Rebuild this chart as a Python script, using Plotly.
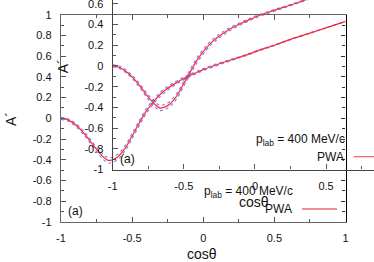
import plotly.graph_objects as go

W, H = 374, 262

cos_theta = [-1.0, -0.95, -0.9, -0.85, -0.8, -0.75, -0.7, -0.67, -0.64, -0.6, -0.55, -0.5, -0.45,
             -0.4, -0.35, -0.3, -0.25, -0.2, -0.15, -0.1, -0.05, 0.0, 0.1, 0.2, 0.3, 0.4, 0.5,
             0.6, 0.7, 0.8, 0.9, 1.0]
pwa = [0.0, -0.015, -0.06, -0.125, -0.21, -0.30, -0.375, -0.405, -0.40, -0.37, -0.29, -0.17,
       -0.045, 0.07, 0.16, 0.235, 0.29, 0.335, 0.375, 0.41, 0.44, 0.47, 0.52, 0.565, 0.61,
       0.66, 0.705, 0.755, 0.80, 0.845, 0.89, 0.935]
pwa_upper = [0.01, -0.003, -0.046, -0.108, -0.19, -0.278, -0.35, -0.38, -0.375, -0.345, -0.265,
             -0.145, -0.02, 0.094, 0.182, 0.255, 0.308, 0.351, 0.389, 0.422, 0.451, 0.48,
             0.529, 0.572, 0.616, 0.665, 0.709, 0.758, 0.802, 0.848, 0.892, 0.937]
pwa_lower = [-0.01, -0.027, -0.074, -0.142, -0.23, -0.322, -0.40, -0.43, -0.425, -0.395,
             -0.315, -0.195, -0.07, 0.046, 0.138, 0.215, 0.272, 0.319, 0.361, 0.398, 0.429,
             0.46, 0.511, 0.558, 0.604, 0.655, 0.701, 0.752, 0.798, 0.842, 0.888, 0.933]

x_ticks = [-1, -0.5, 0, 0.5, 1]
x_ticklabels = ["-1", "-0.5", "0", "0.5", "1"]
y_ticks = [-1, -0.8, -0.6, -0.4, -0.2, 0, 0.2, 0.4, 0.6, 0.8, 1]
y_ticklabels = ["-1", "-0.8", "-0.6", "-0.4", "-0.2", "0", "0.2", "0.4", "0.6", "0.8", "1"]

x_title = "cosθ"
y_title = "A´"
panel_label = "(a)"
key_title = "p<sub>lab</sub> = 400 MeV/c"
series_name = "PWA"

RED = "#ff2a2a"
BLUE = "rgba(80,80,255,0.75)"
FONT = "Liberation Sans, Arial, sans-serif"

# pixel geometry
OX0, OX1, OYT, OYB = 61.0, 345.5, 14.7, 222.0   # outer frame
DX, DY = 51.7, -52.4                              # inner copy offset
pxu = (OX1 - OX0) / 2.0
pyu = (OYB - OYT) / 2.0

def px(x):
    return x / W

def py(y):
    return 1 - y / H

fig = go.Figure()

def add_set(xa, ya):
    fig.add_trace(go.Scatter(x=cos_theta, y=pwa_lower, mode="lines", xaxis=xa, yaxis=ya,
                             line=dict(color=BLUE, width=1.1, dash="dot", shape="spline"),
                             showlegend=False, hoverinfo="skip"))
    fig.add_trace(go.Scatter(x=cos_theta, y=pwa_upper, mode="lines", xaxis=xa, yaxis=ya,
                             line=dict(color=BLUE, width=1.1, dash="dot", shape="spline"),
                             showlegend=False, hoverinfo="skip"))
    fig.add_trace(go.Scatter(x=cos_theta, y=pwa, mode="lines", xaxis=xa, yaxis=ya, name=series_name,
                             line=dict(color=RED, width=1.2, shape="spline"),
                             showlegend=False))

add_set("x", "y")
add_set("x2", "y2")
# carrier for right-hand frame axis
fig.add_trace(go.Scatter(x=[None], y=[None], xaxis="x", yaxis="y3", showlegend=False))

tickfont = dict(family=FONT, size=11, color="#111")
common = dict(showgrid=False, zeroline=False, showline=True, ticks="inside", ticklen=5,
              tickwidth=1, tickcolor="#555", tickfont=tickfont, automargin=False,
              ticklabelstandoff=6, ticklabeloverflow="allow")

# inner geometry
IX0 = OX0 + DX
IYB = OYB + DY
inner_xmax = -1 + (W - IX0) / pxu
inner_ymax = -1 + IYB / pyu

fig.update_layout(
    width=W, height=H, autosize=False,
    margin=dict(l=0, r=0, t=0, b=0, autoexpand=False),
    paper_bgcolor="white", plot_bgcolor="rgba(0,0,0,0)",
    xaxis=dict(domain=[px(OX0), px(OX1)], range=[-1, 1], anchor="y",
               tickvals=x_ticks, ticktext=x_ticklabels, linecolor="#666", mirror="ticks",
               linewidth=1.3, minor=dict(dtick=0.25, tick0=0, ticks="inside", ticklen=3, tickcolor="#555"),
               **common),
    yaxis=dict(domain=[py(OYB), py(OYT)], range=[-1, 1], anchor="x",
               tickvals=y_ticks, ticktext=y_ticklabels, linecolor="#666", linewidth=1.3,
               minor=dict(dtick=0.1, tick0=0, ticks="inside", ticklen=3, tickcolor="#555"),
               **common),
    yaxis3=dict(overlaying="y", side="right", anchor="x", range=[-1, 1], automargin=False,
                showgrid=False, zeroline=False, showline=True, linecolor="#000", linewidth=1.3,
                ticks="inside", ticklen=4, tickcolor="#333", tickvals=y_ticks, showticklabels=False,
                minor=dict(dtick=0.1, tick0=0, ticks="inside", ticklen=3, tickcolor="#333")),
    xaxis2=dict(domain=[px(IX0), 1], range=[-1, inner_xmax], anchor="y2",
                tickvals=x_ticks, ticktext=x_ticklabels, linecolor="#444", linewidth=1.3,
                minor=dict(dtick=0.25, tick0=0, ticks="inside", ticklen=3, tickcolor="#555"),
                **common),
    yaxis2=dict(domain=[py(IYB), 1], range=[-1, inner_ymax], anchor="x2",
                tickvals=y_ticks, ticktext=y_ticklabels, linecolor="#444", linewidth=1.3,
                minor=dict(dtick=0.1, tick0=0, ticks="inside", ticklen=3, tickcolor="#555"),
                **common),
)

def ann(text, x, y, size, xanchor="center", angle=0):
    fig.add_annotation(text=text, x=px(x), y=py(y), xref="paper", yref="paper",
                       xanchor=xanchor, yanchor="middle", showarrow=False, textangle=angle,
                       font=dict(family=FONT, size=size, color="#111"))

for dx, dy in [(0, 0), (DX, DY)]:
    ann(x_title, 202 + dx, 254 + dy, 14)
    ann(y_title, 11 + dx, 119 + dy, 14, angle=-90)
    ann(panel_label, 75.5 + dx, 211 + dy, 12)
    ann(key_title, 295 + dx, 192 + dy, 12, xanchor="right")
    ann(series_name, 294 + dx, 209 + dy, 12, xanchor="right")
    fig.add_shape(type="line", xref="paper", yref="paper",
                  x0=px(302 + dx), x1=px(337 + dx), y0=py(209 + dy), y1=py(209 + dy),
                  line=dict(color="#f06a6a", width=1.3))

fig.write_html("out.html", config={"displayModeBar": False},
               post_script="document.body.style.margin='0';document.body.style.overflow='hidden';")
